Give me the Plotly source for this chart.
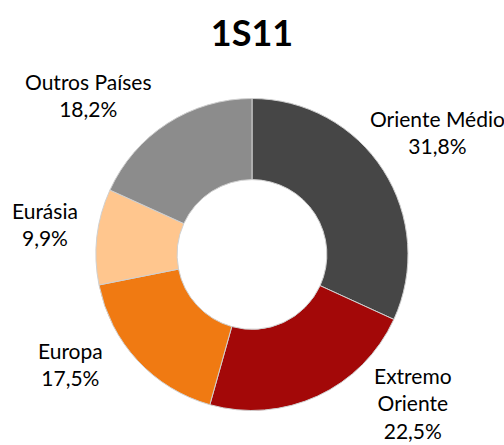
import plotly.graph_objects as go

labels = ['Oriente Médio', 'Extremo Oriente', 'Europa', 'Eurásia', 'Outros Países']
label_text = ['Oriente Médio', 'Extremo<br>Oriente', 'Europa', 'Eurásia', 'Outros Países']
values = [31.8, 22.5, 17.5, 9.9, 18.2]
colors = ['#464646', '#A30808', '#F07A12', '#FFC68E', '#8C8C8C']
title = '1S11'

# label anchor positions (paper coords)
label_pos = [
    (437 / 504, 1 - 132 / 445),
    (413 / 504, 1 - 403 / 445),
    (70 / 504, 1 - 364 / 445),
    (45 / 504, 1 - 224 / 445),
    (88 / 504, 1 - 95 / 445),
]

_font = 'Lato'

fig = go.Figure()

fig.add_trace(go.Pie(
    labels=labels,
    values=values,
    hole=0.48,
    sort=False,
    direction='clockwise',
    rotation=0,
    marker=dict(colors=colors, line=dict(color='#d0d0d0', width=1)),
    textinfo='none',
    showlegend=False,
    domain=dict(x=[96 / 504, 408 / 504], y=[1 - 411 / 445, 1 - 98 / 445]),
))

annotations = []
for (x, y), txt, v in zip(label_pos, label_text, values):
    annotations.append(dict(
        x=x, y=y, xref='paper', yref='paper',
        xanchor='center', yanchor='middle',
        text=txt + '<br>' + f'{v:.1f}'.replace('.', ',') + '%',
        showarrow=False,
        font=dict(family=_font, size=21, color='#000000'),
        align='center',
    ))

fig.update_layout(
    width=504,
    height=445,
    margin=dict(l=0, r=0, t=0, b=0),
    paper_bgcolor='white',
    plot_bgcolor='white',
    title=dict(
        text='<b>' + title + '</b>',
        x=0.5, xanchor='center',
        y=1 - 33 / 445, yanchor='middle',
        font=dict(family=_font, size=36, color='#000000'),
    ),
    annotations=annotations,
)

fig.write_html('out.html', config=dict(displayModeBar=False),
               post_script="document.body.style.margin='0';")
